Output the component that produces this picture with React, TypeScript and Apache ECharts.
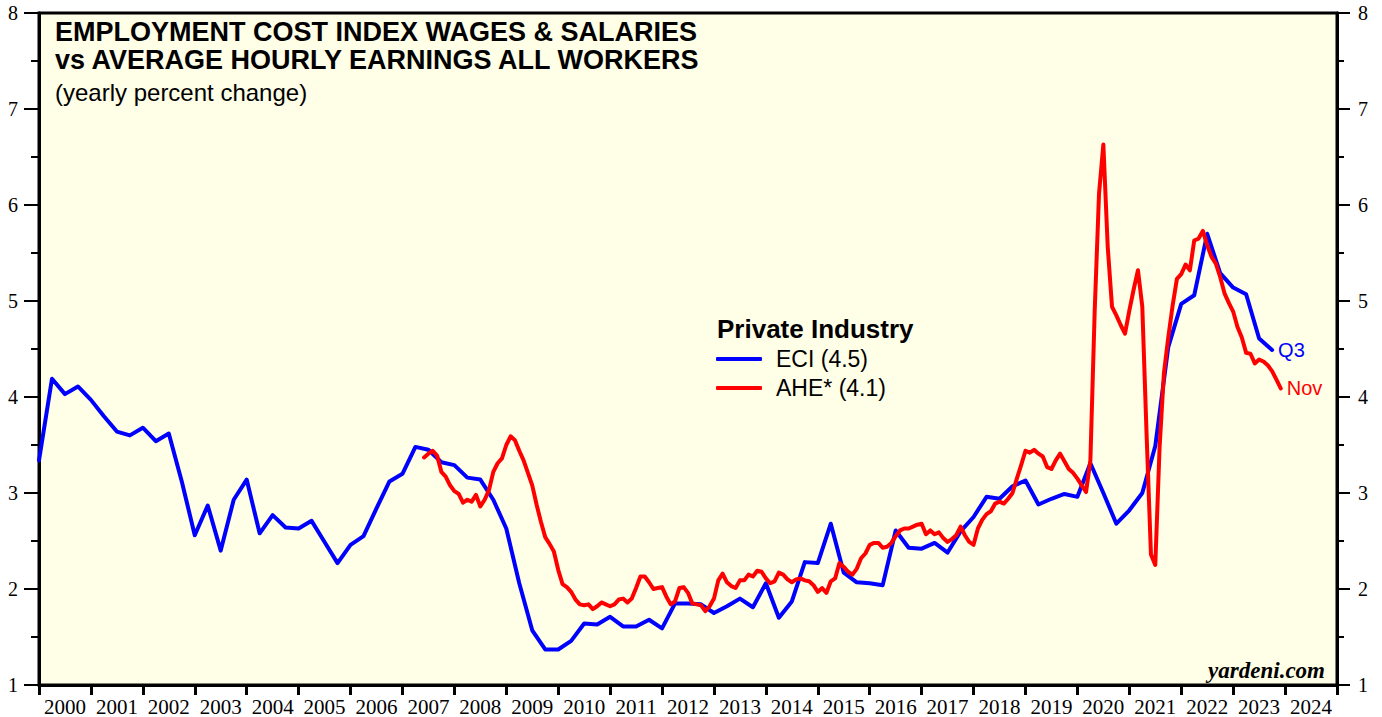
import React, { useEffect, useRef } from 'react';
import * as echarts from 'echarts';

// ---------- data ----------
const YEARS = [
  '2000', '2001', '2002', '2003', '2004', '2005', '2006', '2007', '2008', '2009',
  '2010', '2011', '2012', '2013', '2014', '2015', '2016', '2017', '2018', '2019',
  '2020', '2021', '2022', '2023', '2024',
];
const X_MIN = 2000;
const X_MAX = 2025;
const Y_MIN = 1;
const Y_MAX = 8;

// ECI wages & salaries, private industry, yearly % change, quarterly from Q4 1999
const ECI_START = { year: 1999, quarter: 4 };
const ECI_VALUES = [
  3.34, 4.19, 4.03, 4.11, 3.97, 3.80, 3.64, 3.60, 3.68, 3.54,
  3.62, 3.12, 2.56, 2.87, 2.40, 2.93, 3.14, 2.58, 2.77, 2.64,
  2.63, 2.71, 2.49, 2.27, 2.46, 2.55, 2.84, 3.12, 3.20, 3.48,
  3.45, 3.32, 3.29, 3.16, 3.14, 2.93, 2.63, 2.06, 1.57, 1.37,
  1.37, 1.46, 1.64, 1.63, 1.71, 1.61, 1.61, 1.68, 1.59, 1.85,
  1.85, 1.84, 1.75, 1.82, 1.90, 1.81, 2.06, 1.70, 1.87, 2.28,
  2.27, 2.68, 2.17, 2.07, 2.06, 2.04, 2.61, 2.43, 2.42, 2.48,
  2.38, 2.60, 2.75, 2.96, 2.94, 3.07, 3.13, 2.88, 2.94, 2.99,
  2.96, 3.31, 3.00, 2.68, 2.82, 3.00, 3.49, 4.52, 4.97, 5.06,
  5.70, 5.29, 5.14, 5.07, 4.61, 4.49,
];

// Average hourly earnings, all private workers, yearly % change, monthly from May 2007
const AHE_START = { year: 2007, month: 5 };
const AHE_VALUES = [
  3.37, 3.41, 3.44, 3.39, 3.22, 3.17, 3.08, 3.02, 2.99, 2.90,
  2.93, 2.91, 2.98, 2.86, 2.93, 3.03, 3.22, 3.31, 3.36, 3.50,
  3.59, 3.55, 3.44, 3.34, 3.21, 3.08, 2.88, 2.70, 2.54, 2.47,
  2.39, 2.20, 2.05, 2.02, 1.97, 1.89, 1.84, 1.83, 1.84, 1.79,
  1.82, 1.86, 1.84, 1.82, 1.84, 1.89, 1.90, 1.86, 1.90, 2.01,
  2.13, 2.13, 2.07, 2.00, 2.01, 2.02, 1.92, 1.84, 1.87, 2.01,
  2.02, 1.96, 1.85, 1.84, 1.83, 1.77, 1.82, 1.90, 2.09, 2.16,
  2.07, 2.03, 2.01, 2.09, 2.09, 2.15, 2.13, 2.19, 2.18, 2.11,
  2.06, 2.08, 2.17, 2.15, 2.10, 2.07, 2.10, 2.11, 2.09, 2.08,
  2.04, 1.97, 2.01, 1.96, 2.08, 2.11, 2.27, 2.23, 2.18, 2.15,
  2.21, 2.32, 2.37, 2.46, 2.48, 2.48, 2.43, 2.44, 2.48, 2.55,
  2.61, 2.63, 2.63, 2.65, 2.67, 2.68, 2.57, 2.61, 2.57, 2.59,
  2.53, 2.49, 2.52, 2.56, 2.65, 2.56, 2.49, 2.46, 2.63, 2.72,
  2.78, 2.81, 2.89, 2.91, 2.89, 2.94, 3.00, 3.15, 3.29, 3.44,
  3.42, 3.45, 3.41, 3.38, 3.27, 3.25, 3.34, 3.41, 3.33, 3.25,
  3.21, 3.15, 3.08, 3.01, 3.34, 4.90, 6.12, 6.63, 5.57, 4.94,
  4.85, 4.75, 4.66, 4.90, 5.12, 5.32, 4.94, 3.60, 2.36, 2.25,
  3.48, 4.25, 4.62, 4.95, 5.23, 5.28, 5.38, 5.32, 5.63, 5.65,
  5.73, 5.58, 5.46, 5.39, 5.25, 5.08, 4.98, 4.89, 4.73, 4.62,
  4.46, 4.45, 4.35, 4.39, 4.37, 4.33, 4.27, 4.18, 4.09,
];

const ECI_NAME = 'ECI (4.5)';
const AHE_NAME = 'AHE* (4.1)';
const ECI_END_LABEL = 'Q3';
const AHE_END_LABEL = 'Nov';

const TITLE = 'EMPLOYMENT COST INDEX WAGES & SALARIES\nvs AVERAGE HOURLY EARNINGS ALL WORKERS';
const SUBTITLE = '(yearly percent change)';
const LEGEND_TITLE = 'Private Industry';
const SOURCE = 'yardeni.com';

// ---------- derived ----------
const eciData = ECI_VALUES.map((v, i) => [ECI_START.year + (ECI_START.quarter + i) * 0.25, v]);
const aheData = AHE_VALUES.map((v, i) => [AHE_START.year + (AHE_START.month + i) / 12, v]);

const SERIF = '"Liberation Serif", "Times New Roman", serif';
const SANS = '"Liberation Sans", Arial, Helvetica, sans-serif';

function yAxis(position: 'left' | 'right', tickLen: number, minorLen: number) {
  return {
    type: 'value',
    position,
    min: Y_MIN,
    max: Y_MAX,
    interval: 1,
    axisLine: { show: true, onZero: false, lineStyle: { color: '#000', width: 3 } },
    axisTick: { show: true, length: tickLen, lineStyle: { color: '#000', width: 2 } },
    minorTick: { show: true, splitNumber: 2, length: minorLen, lineStyle: { color: '#000', width: 2 } },
    axisLabel: { fontFamily: SERIF, fontSize: 20, color: '#000', margin: 21 },
    splitLine: { show: false },
  };
}

export default function App() {
  const ref = useRef<HTMLDivElement>(null);
  useEffect(() => {
    if (!ref.current) return;
    const chart = echarts.init(ref.current, null, { renderer: 'svg' });
    chart.setOption({
      animation: false,
      backgroundColor: '#ffffff',
      title: {
        text: TITLE,
        subtext: SUBTITLE,
        left: 55,
        top: 18,
        padding: 0,
        itemGap: 5,
        textStyle: { fontFamily: SANS, fontSize: 27, fontWeight: 'bold', color: '#000', lineHeight: 28 },
        subtextStyle: { fontFamily: SANS, fontSize: 24, color: '#000', lineHeight: 26 },
      },
      legend: {
        orient: 'vertical',
        left: 716,
        top: 347,
        padding: 0,
        itemGap: 5,
        itemWidth: 46,
        itemHeight: 4,
        icon: 'roundRect',
        data: [ECI_NAME, AHE_NAME],
        textStyle: { fontFamily: SANS, fontSize: 23, color: '#000', lineHeight: 24, padding: [0, 0, 0, 9] },
      },
      grid: {
        left: 39,
        right: 45,
        top: 13,
        bottom: 32,
        show: true,
        backgroundColor: '#fffee6',
        borderColor: '#000',
        borderWidth: 3,
      },
      xAxis: [
        {
          type: 'category',
          data: YEARS,
          boundaryGap: true,
          position: 'bottom',
          axisLine: { show: true, lineStyle: { color: '#000', width: 3 } },
          axisTick: { show: true, length: 10, lineStyle: { color: '#000', width: 3 } },
          axisLabel: { fontFamily: SERIF, fontSize: 21, color: '#000', margin: 11, interval: 0 },
          splitLine: { show: false },
        },
        { type: 'value', min: X_MIN, max: X_MAX, show: false, splitLine: { show: false } },
      ],
      yAxis: [yAxis('left', 15, 8), yAxis('right', 13, 7)],
      graphic: [
        {
          type: 'text',
          left: 717,
          top: 316,
          style: { text: LEGEND_TITLE, fontFamily: SANS, fontSize: 26, fontWeight: 'bold', fill: '#000' },
        },
        {
          type: 'text',
          right: 57,
          top: 659,
          style: { text: SOURCE, fontFamily: SERIF, fontSize: 23, fontWeight: 'bold', fontStyle: 'italic', fill: '#000' },
        },
      ],
      series: [
        {
          name: ECI_NAME,
          type: 'line',
          xAxisIndex: 1,
          yAxisIndex: 0,
          data: eciData,
          showSymbol: false,
          symbol: 'none',
          lineStyle: { color: '#0000ff', width: 4, join: 'round', cap: 'round' },
          itemStyle: { color: '#0000ff' },
          endLabel: { show: true, formatter: ECI_END_LABEL, color: '#0000ff', fontFamily: SANS, fontSize: 20, distance: 6 },
          z: 2,
        },
        {
          name: AHE_NAME,
          type: 'line',
          xAxisIndex: 1,
          yAxisIndex: 0,
          data: aheData,
          showSymbol: false,
          symbol: 'none',
          lineStyle: { color: '#ff0000', width: 4, join: 'round', cap: 'round' },
          itemStyle: { color: '#ff0000' },
          endLabel: { show: true, formatter: AHE_END_LABEL, color: '#ff0000', fontFamily: SANS, fontSize: 20, distance: 6 },
          z: 3,
        },
      ],
    });
    return () => chart.dispose();
  }, []);
  return <div ref={ref} style={{ position: 'absolute', left: 0, top: 0, width: 1382, height: 717 }} />;
}
